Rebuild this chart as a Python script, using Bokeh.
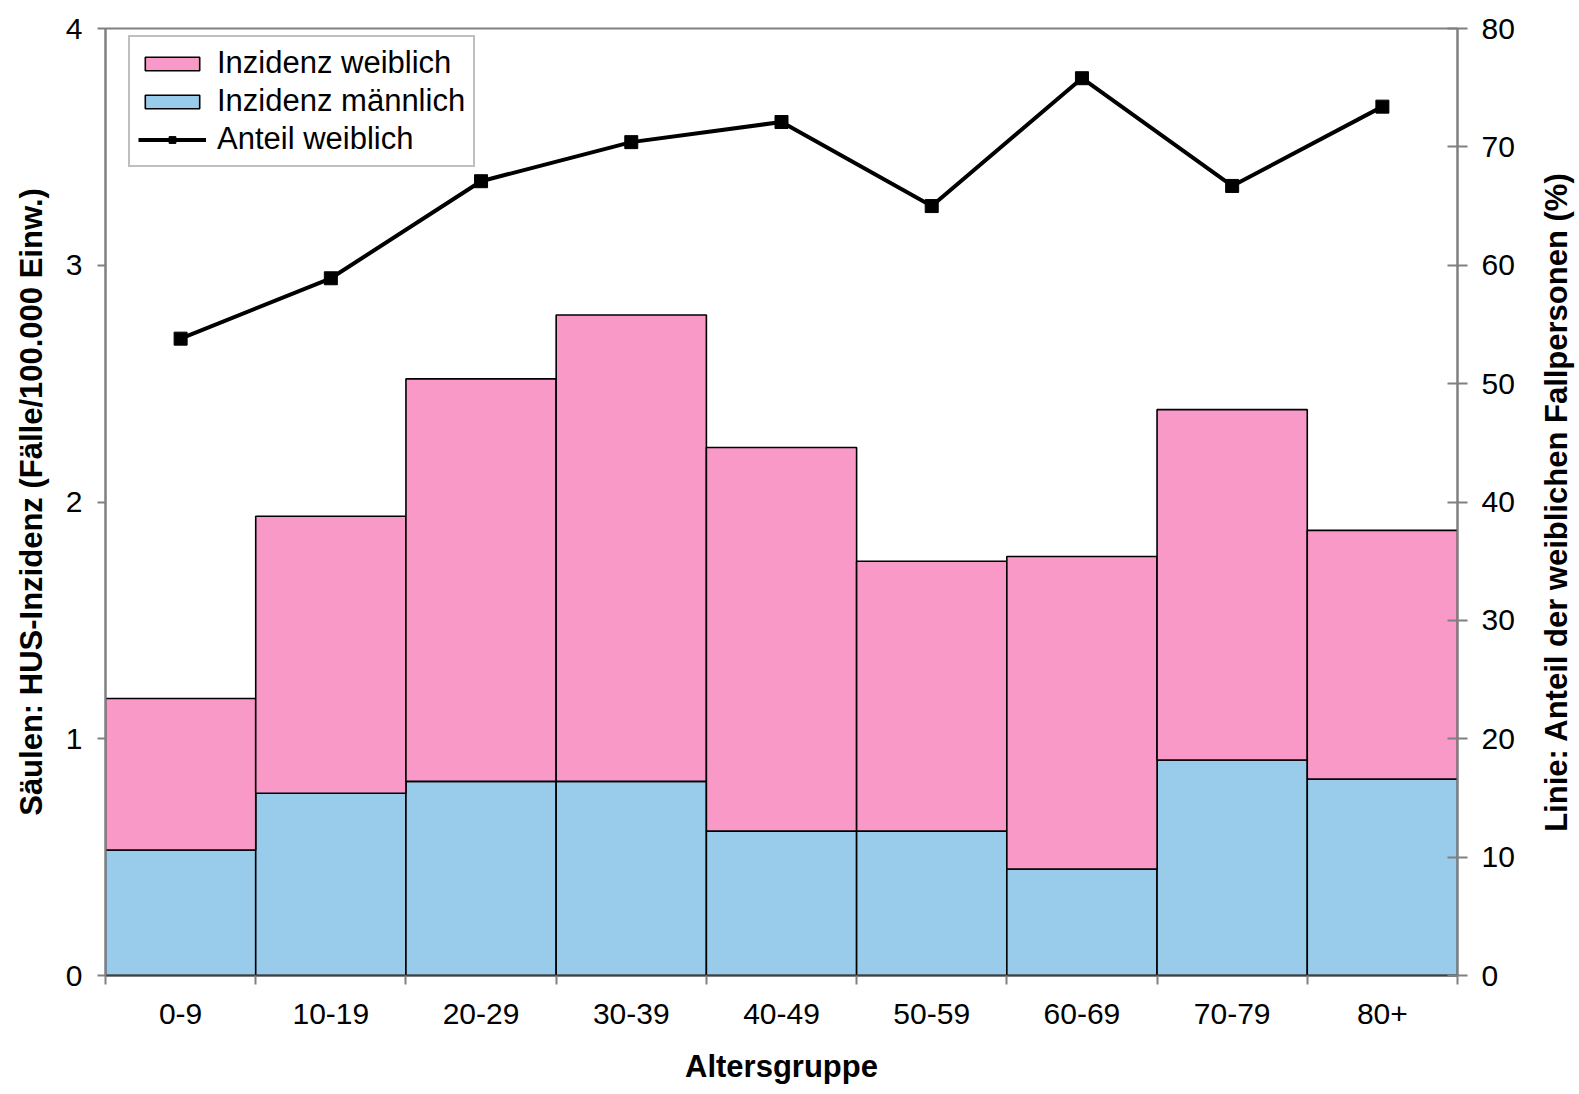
from bokeh.plotting import figure
from bokeh.layouts import row
from bokeh.models import (Range1d, LinearAxis, FixedTicker, ColumnDataSource,
                          Legend, LegendItem)
from bokeh.embed import file_html
from bokeh.resources import INLINE

# ---- data ----
categories = ["0-9", "10-19", "20-29", "30-39", "40-49", "50-59", "60-69", "70-79", "80+"]
inzidenz_maennlich = [0.53, 0.77, 0.82, 0.82, 0.61, 0.61, 0.45, 0.91, 0.83]
inzidenz_weiblich = [0.64, 1.17, 1.70, 1.97, 1.62, 1.14, 1.32, 1.48, 1.05]
anteil_weiblich = [53.8, 58.9, 67.1, 70.4, 72.1, 65.0, 75.8, 66.7, 73.4]
left_ticks = [0, 1, 2, 3, 4]
right_ticks = [0, 10, 20, 30, 40, 50, 60, 70, 80]

PINK = "#F999C8"
BLUE = "#99CCEB"
FONT = "Liberation Sans"
GRAY = "#808080"

H = 1092
TOP = 28
BOTTOM = 117

n = len(categories)
xs = [i + 0.5 for i in range(n)]
source = ColumnDataSource(dict(x=xs, male=inzidenz_maennlich, female=inzidenz_weiblich,
                               share=anteil_weiblich))

p = figure(width=1519, height=H, output_backend="svg", toolbar_location=None,
           x_range=Range1d(0, n), y_range=Range1d(0, 4),
           min_border_left=105, min_border_right=62, min_border_top=TOP, min_border_bottom=BOTTOM)
p.extra_y_ranges = {"share": Range1d(0, 80)}
p.xgrid.visible = False
p.ygrid.visible = False
p.outline_line_color = GRAY
p.outline_line_width = 2
p.background_fill_color = "white"

bars = p.vbar_stack(["male", "female"], x="x", width=1.0, color=[BLUE, PINK],
                    line_color="black", line_width=1.6, source=source)

ln = p.line("x", "share", source=source, y_range_name="share", line_color="black", line_width=4)
mk = p.scatter("x", "share", source=source, y_range_name="share", marker="square",
               size=13, fill_color="black", line_color="black")

# x axis
xa = p.xaxis[0]
xa.ticker = FixedTicker(ticks=xs, minor_ticks=list(range(n + 1)))
xa.major_label_overrides = {x: c for x, c in zip(xs, categories)}
xa.major_tick_out = 0
xa.major_tick_in = 0
xa.minor_tick_out = 9
xa.minor_tick_in = 0
xa.minor_tick_line_color = GRAY
xa.minor_tick_line_width = 2
xa.axis_line_color = "#404040"
xa.axis_line_width = 2
xa.major_label_standoff = 19
xa.major_label_text_font = FONT
xa.major_label_text_font_size = "30px"
xa.major_label_text_color = "black"
xa.axis_label = "Altersgruppe"
xa.axis_label_text_font = FONT
xa.axis_label_text_font_style = "bold"
xa.axis_label_text_font_size = "31px"
xa.axis_label_text_color = "black"
xa.axis_label_standoff = 22

# left axis
ya = p.yaxis[0]
ya.ticker = FixedTicker(ticks=left_ticks, minor_ticks=[])
ya.major_tick_out = 8
ya.major_tick_in = 0
ya.major_tick_line_color = GRAY
ya.major_tick_line_width = 2
ya.axis_line_color = GRAY
ya.axis_line_width = 2
ya.major_label_standoff = 15
ya.major_label_text_font = FONT
ya.major_label_text_font_size = "30px"
ya.major_label_text_color = "black"
ya.axis_label = "Säulen: HUS-Inzidenz (Fälle/100.000 Einw.)"
ya.axis_label_text_font = FONT
ya.axis_label_text_font_style = "bold"
ya.axis_label_text_font_size = "31px"
ya.axis_label_text_color = "black"
ya.axis_label_standoff = 14

# right axis (ticks and numbers)
ra = LinearAxis(y_range_name="share", ticker=FixedTicker(ticks=right_ticks, minor_ticks=[]))
ra.major_tick_out = 10
ra.major_tick_in = 10
ra.major_tick_line_color = GRAY
ra.major_tick_line_width = 2
ra.axis_line_color = GRAY
ra.axis_line_width = 2
ra.major_label_standoff = 14
ra.major_label_text_font = FONT
ra.major_label_text_font_size = "30px"
ra.major_label_text_color = "black"
p.add_layout(ra, "right")

legend = Legend(items=[
    LegendItem(label="Inzidenz weiblich", renderers=[bars[1]]),
    LegendItem(label="Inzidenz männlich", renderers=[bars[0]]),
    LegendItem(label="Anteil weiblich", renderers=[ln, mk]),
], location=(23, 947 - 12 - 127))
legend.label_text_font = FONT
legend.label_text_font_size = "31px"
legend.label_text_color = "black"
legend.glyph_width = 68
legend.glyph_height = 17
legend.label_height = 30
legend.label_standoff = 11
legend.spacing = 2
legend.padding = 8
legend.margin = 0
legend.border_line_color = GRAY
legend.border_line_width = 2
legend.background_fill_alpha = 1.0
p.add_layout(legend, "center")

# narrow companion figure carrying the right-hand axis title (reads bottom to top)
p2 = figure(width=56, height=H, output_backend="svg", toolbar_location=None,
            x_range=Range1d(0, 1), y_range=Range1d(0, 80),
            min_border_left=51, min_border_right=4, min_border_top=TOP, min_border_bottom=BOTTOM)
p2.outline_line_color = None
p2.xaxis.visible = False
p2.xgrid.visible = False
p2.ygrid.visible = False
ya2 = p2.yaxis[0]
ya2.ticker = FixedTicker(ticks=[], minor_ticks=[])
ya2.axis_line_color = None
ya2.major_tick_out = 0
ya2.major_tick_in = 0
ya2.axis_label = "Linie: Anteil der weiblichen Fallpersonen (%)"
ya2.axis_label_text_font = FONT
ya2.axis_label_text_font_style = "bold"
ya2.axis_label_text_font_size = "31px"
ya2.axis_label_text_color = "black"
ya2.axis_label_standoff = -3

layout = row(p, p2, spacing=0)
open("out.html", "w").write(file_html(layout, INLINE))
